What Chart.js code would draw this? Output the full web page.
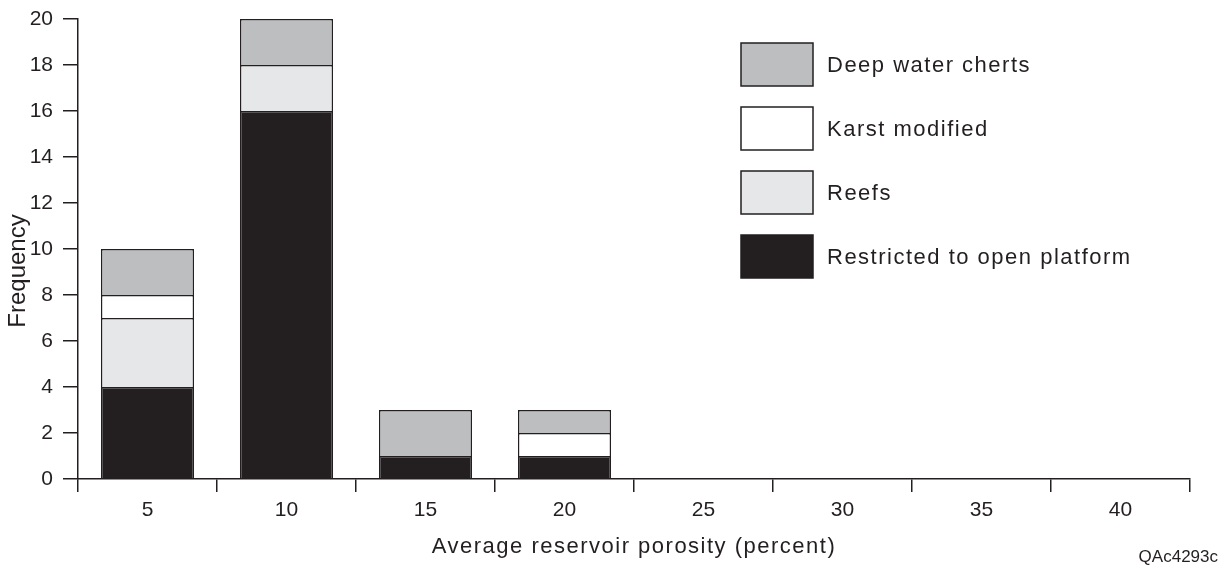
<!DOCTYPE html>
<html lang="en">
<head>
    <meta charset="UTF-8">
    <title>Reservoir porosity</title>
    <script src="https://cdn.jsdelivr.net/npm/chart.js"></script>
    <style>
        html, body { margin: 0; padding: 0; background: #fff; }
        #wrap { width: 1229px; height: 568px; }
    </style>
</head>
<body>
    <div id="wrap"><canvas id="barChart" width="1229" height="568"></canvas></div>

    <script>
        // data
        const porosity = ['5', '10', '15', '20', '25', '30', '35', '40'];
        const restricted = [4, 16, 1, 1, 0, 0, 0, 0];
        const reefs = [3, 2, 0, 0, 0, 0, 0, 0];
        const karst = [1, 0, 0, 1, 0, 0, 0, 0];
        const deepWater = [2, 2, 2, 1, 0, 0, 0, 0];
        const yTicks = [0, 2, 4, 6, 8, 10, 12, 14, 16, 18, 20];

        const ink = '#231f20';
        const font = 'Liberation Sans, Arial, sans-serif';

        // legend, axis titles and figure id, drawn by hand (text is tracked wide)
        const extras = {
            id: 'extras',
            afterDraw(chart) {
                const ctx = chart.ctx;
                const area = chart.chartArea;
                const sets = chart.data.datasets.slice().reverse();
                ctx.save();
                ctx.letterSpacing = '1.5px';
                sets.forEach((ds, i) => {
                    const top = 43 + i * 64;
                    ctx.fillStyle = ds.backgroundColor;
                    ctx.fillRect(741, top, 72, 43);
                    ctx.strokeStyle = ink;
                    ctx.lineWidth = 1.5;
                    ctx.strokeRect(741, top, 72, 43);
                    ctx.fillStyle = ink;
                    ctx.font = '22px ' + font;
                    ctx.textBaseline = 'alphabetic';
                    ctx.textAlign = 'left';
                    ctx.fillText(ds.label, 827, top + 29);
                });

                ctx.textAlign = 'center';
                ctx.fillText('Average reservoir porosity (percent)', (area.left + area.right) / 2, 553);

                ctx.letterSpacing = '0px';
                ctx.save();
                ctx.font = '24px ' + font;
                ctx.translate(25, 271);
                ctx.rotate(-Math.PI / 2);
                ctx.fillText('Frequency', 0, 0);
                ctx.restore();

                ctx.font = '17px ' + font;
                ctx.textAlign = 'right';
                ctx.fillText('QAc4293c', 1218, 562);
                ctx.restore();
            }
        };

        function bars(label, data, color) {
            return {
                label: label,
                data: data,
                backgroundColor: color,
                borderColor: ink,
                borderWidth: 1.5,
                borderSkipped: 'start',
                categoryPercentage: 1,
                barPercentage: 0.67
            };
        }

        new Chart(document.getElementById('barChart'), {
            type: 'bar',
            data: {
                labels: porosity,
                datasets: [
                    bars('Restricted to open platform', restricted, ink),
                    bars('Reefs', reefs, '#e6e7e8'),
                    bars('Karst modified', karst, '#ffffff'),
                    bars('Deep water cherts', deepWater, '#bcbec0')
                ]
            },
            options: {
                responsive: false,
                animation: false,
                layout: { padding: { top: 19, right: 39, left: 0, bottom: 0 } },
                plugins: {
                    legend: { display: false },
                    tooltip: { enabled: false }
                },
                scales: {
                    x: {
                        stacked: true,
                        afterFit: s => { s.height = 89; s.paddingLeft = 0; s.paddingRight = 0; },
                        border: { color: ink, width: 1.5 },
                        grid: { offset: true, drawOnChartArea: false, drawTicks: true, tickLength: 13, color: ink, lineWidth: 1.5 },
                        ticks: { color: ink, font: { family: font, size: 21 }, padding: 6 }
                    },
                    y: {
                        stacked: true,
                        min: 0,
                        max: 20,
                        afterFit: s => { s.width = 78; s.paddingTop = 0; s.paddingBottom = 0; },
                        afterBuildTicks: s => { s.ticks = yTicks.map(v => ({ value: v })); },
                        border: { color: ink, width: 1.5 },
                        grid: { drawOnChartArea: false, drawTicks: true, tickLength: 15, color: ink, lineWidth: 1.5 },
                        ticks: { color: ink, font: { family: font, size: 21 }, padding: 10 }
                    }
                }
            },
            plugins: [extras]
        });
    </script>
</body>
</html>
